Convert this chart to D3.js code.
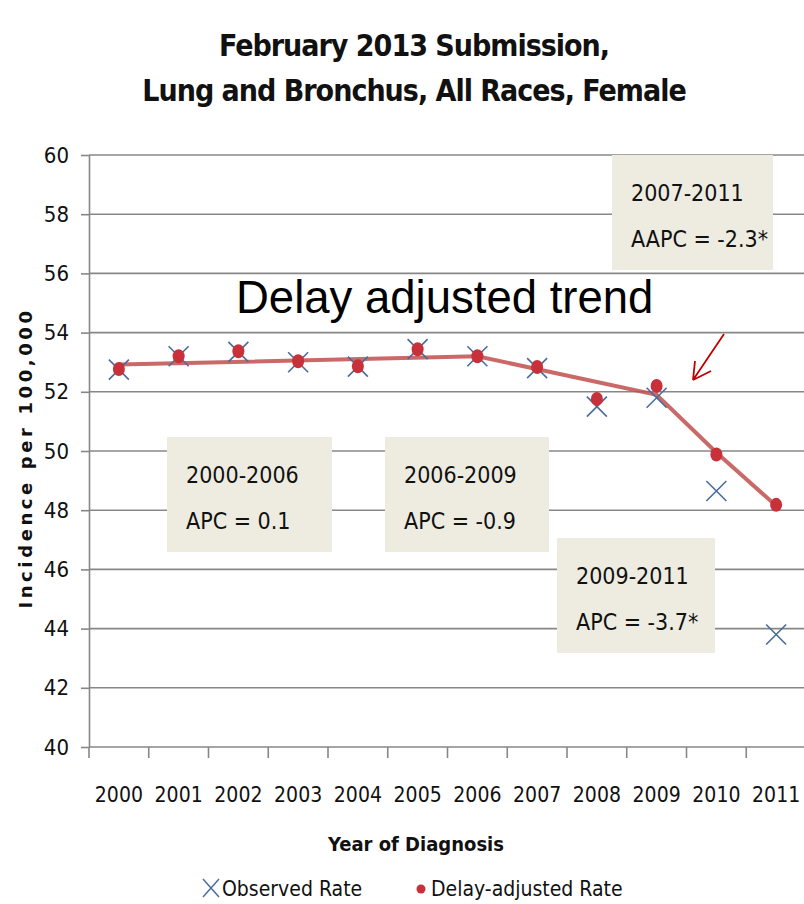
<!DOCTYPE html>
<html>
<head>
<meta charset="utf-8">
<script src="https://cdn.jsdelivr.net/npm/d3@7"></script>
<style>
  body { margin: 0; background: #fff; }
  svg { display: block; }
  .narrow { font-family: "Liberation Sans Narrow", "DejaVu Sans Condensed", "Open Sans", sans-serif; }
</style>
</head>
<body>
<svg width="804" height="904"></svg>
<script>
// data
var years = [2000, 2001, 2002, 2003, 2004, 2005, 2006, 2007, 2008, 2009, 2010, 2011];
var observed = [52.75, 53.2, 53.35, 53.0, 52.85, 53.44, 53.2, 52.8, 51.5, 51.8, 48.65, 43.8];
var delayAdjusted = [52.77, 53.2, 53.37, 53.03, 52.86, 53.44, 53.2, 52.84, 51.76, 52.2, 49.88, 48.18];
var trendYears = [2000, 2006, 2009, 2010, 2011];
var trendValues = [52.92, 53.2, 51.9, 49.95, 48.15];
var yTicks = [40, 42, 44, 46, 48, 50, 52, 54, 56, 58, 60];
var segments = [
  { line1: "2000-2006", line2: "APC = 0.1" },
  { line1: "2006-2009", line2: "APC = -0.9" },
  { line1: "2009-2011", line2: "APC = -3.7*" },
  { line1: "2007-2011", line2: "AAPC = -2.3*" }
];

var svg = d3.select("svg");
var margin = { left: 89, right: 806, top: 155, bottom: 747 };

var x = d3.scaleBand()
  .domain(years)
  .range([margin.left, margin.right])
  .padding(0);
var y = d3.scaleLinear()
  .domain([40, 60])
  .range([margin.bottom, margin.top]);
var cx = function(d) { return x(d) + x.bandwidth() / 2; };

var gridColor = "#878787";

// gridlines
svg.append("g")
  .selectAll("line")
  .data(yTicks)
  .enter().append("line")
    .attr("x1", margin.left)
    .attr("x2", margin.right)
    .attr("y1", function(d) { return y(d); })
    .attr("y2", function(d) { return y(d); })
    .attr("stroke", gridColor)
    .attr("stroke-width", 1.6);

// y axis
var yAxis = svg.append("g")
  .attr("transform", "translate(" + margin.left + ",0)")
  .call(d3.axisLeft(y).tickValues(yTicks).tickSize(8).tickPadding(12).tickSizeOuter(0));
yAxis.select(".domain").attr("stroke", gridColor).attr("stroke-width", 1.6);
yAxis.selectAll(".tick line").attr("stroke", gridColor).attr("stroke-width", 1.6);
yAxis.selectAll("text")
  .attr("class", "narrow")
  .attr("font-size", 22)
  .attr("fill", "#111");

// x axis: labels at band centers, ticks at band edges
var xAxis = svg.append("g")
  .attr("transform", "translate(0," + margin.bottom + ")")
  .call(d3.axisBottom(x).tickSize(0).tickPadding(40));
xAxis.select(".domain").remove();
xAxis.selectAll("text")
  .attr("class", "narrow")
  .attr("font-size", 21)
  .attr("fill", "#111");
svg.append("g")
  .selectAll("line")
  .data(years.concat([years[years.length - 1] + 1]))
  .enter().append("line")
    .attr("x1", function(d, i) { return margin.left + i * x.bandwidth(); })
    .attr("x2", function(d, i) { return margin.left + i * x.bandwidth(); })
    .attr("y1", margin.bottom)
    .attr("y2", margin.bottom + 11)
    .attr("stroke", gridColor)
    .attr("stroke-width", 1.6);

// annotation boxes
var boxes = [
  { x0: 167, x1: 332, y0: 437, y1: 552 },
  { x0: 385, x1: 549, y0: 437, y1: 552 },
  { x0: 557, x1: 715, y0: 538, y1: 653 },
  { x0: 612, x1: 773, y0: 155, y1: 270 }
];
var box = svg.append("g")
  .selectAll("g")
  .data(segments)
  .enter().append("g");
box.append("rect")
  .attr("x", function(d, i) { return boxes[i].x0; })
  .attr("y", function(d, i) { return boxes[i].y0; })
  .attr("width", function(d, i) { return boxes[i].x1 - boxes[i].x0; })
  .attr("height", function(d, i) { return boxes[i].y1 - boxes[i].y0; })
  .attr("fill", "#eeece1");
box.append("text")
  .attr("class", "narrow")
  .attr("x", function(d, i) { return boxes[i].x0 + 19; })
  .attr("y", function(d, i) { return boxes[i].y0 + 46; })
  .attr("font-size", 23)
  .attr("fill", "#111")
  .text(function(d) { return d.line1; });
box.append("text")
  .attr("class", "narrow")
  .attr("x", function(d, i) { return boxes[i].x0 + 19; })
  .attr("y", function(d, i) { return boxes[i].y0 + 92; })
  .attr("font-size", 23)
  .attr("fill", "#111")
  .text(function(d) { return d.line2; });

// trend line
var line = d3.line()
  .x(function(d) { return cx(d[0]); })
  .y(function(d) { return y(d[1]); });
svg.append("path")
  .datum(d3.zip(trendYears, trendValues))
  .attr("d", line)
  .attr("fill", "none")
  .attr("stroke", "#c0504d")
  .attr("stroke-opacity", 0.85)
  .attr("stroke-width", 4);

// observed X markers
var xSize = 10;
var obs = svg.append("g")
  .selectAll("g")
  .data(d3.zip(years, observed))
  .enter().append("g")
    .attr("transform", function(d) { return "translate(" + cx(d[0]) + "," + y(d[1]) + ")"; });
obs.append("path")
  .attr("d", "M" + (-xSize) + "," + (-xSize) + "L" + xSize + "," + xSize + "M" + xSize + "," + (-xSize) + "L" + (-xSize) + "," + xSize)
  .attr("stroke", "#4a6c9c")
  .attr("stroke-width", 1.6)
  .attr("fill", "none");

// delay-adjusted dots
svg.append("g")
  .selectAll("ellipse")
  .data(d3.zip(years, delayAdjusted))
  .enter().append("ellipse")
    .attr("cx", function(d) { return cx(d[0]); })
    .attr("cy", function(d) { return y(d[1]); })
    .attr("rx", 6)
    .attr("ry", 7)
    .attr("fill", "#c8303a");

// "Delay adjusted trend" note and arrow
svg.append("text")
  .attr("x", 236)
  .attr("y", 313)
  .attr("font-family", "'Liberation Sans', Arial, sans-serif")
  .attr("font-size", 45.5)
  .attr("fill", "#000")
  .text("Delay adjusted trend");
svg.append("path")
  .attr("d", "M724,334L693,380M693,380L695,361M693,380L711,371")
  .attr("stroke", "#c00000")
  .attr("stroke-width", 1.8)
  .attr("fill", "none");

// titles
var title = svg.append("g")
  .attr("class", "narrow")
  .attr("font-size", 30)
  .attr("font-weight", "bold")
  .attr("letter-spacing", -1)
  .attr("text-anchor", "middle")
  .attr("fill", "#111");
title.append("text").attr("x", 414).attr("y", 56).text("February 2013 Submission,");
title.append("text").attr("x", 414).attr("y", 101).text("Lung and Bronchus, All Races, Female");

svg.append("text")
  .attr("transform", "translate(32,458) rotate(-90)")
  .attr("text-anchor", "middle")
  .attr("font-family", "'DejaVu Sans', Verdana, sans-serif")
  .attr("font-weight", "bold")
  .attr("font-size", 18)
  .attr("letter-spacing", 3.6)
  .attr("fill", "#111")
  .text("Incidence per 100,000");

svg.append("text")
  .attr("class", "narrow")
  .attr("x", 416)
  .attr("y", 851)
  .attr("text-anchor", "middle")
  .attr("font-size", 20)
  .attr("font-weight", "bold")
  .attr("fill", "#111")
  .text("Year of Diagnosis");

// legend
var legend = svg.append("g").attr("class", "narrow").attr("font-size", 21).attr("fill", "#111");
legend.append("path")
  .attr("d", "M203,879L219,897M219,879L203,897")
  .attr("stroke", "#4a6c9c")
  .attr("stroke-width", 1.5);
legend.append("text").attr("x", 222).attr("y", 896).text("Observed Rate");
legend.append("circle").attr("cx", 421).attr("cy", 889).attr("r", 4.5).attr("fill", "#c8303a");
legend.append("text").attr("x", 431).attr("y", 896).text("Delay-adjusted Rate");
</script>
</body>
</html>
